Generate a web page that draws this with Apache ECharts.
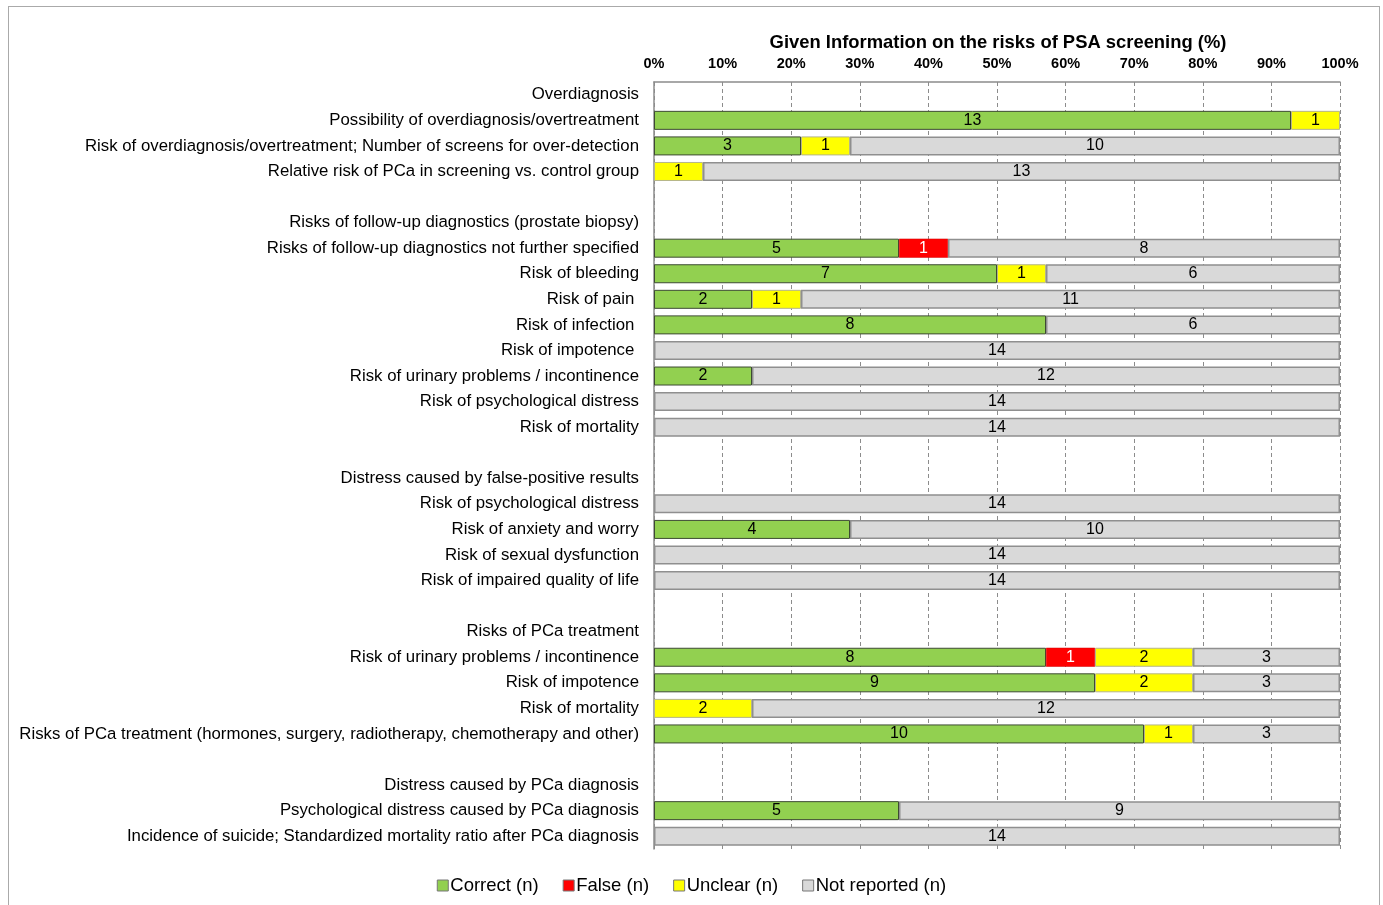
<!DOCTYPE html>
<html>
<head>
<meta charset="utf-8">
<style>
  html, body { margin: 0; padding: 0; background: #fff; overflow: hidden; }
  #frame { position: absolute; left: 8px; top: 6px; width: 1372px; height: 960px; border: 1.5px solid #aaaaaa; box-sizing: border-box; pointer-events: none; }
  #chart { position: absolute; left: 0; top: 0; width: 1383px; height: 905px; }
</style>
<script src="https://cdn.jsdelivr.net/npm/echarts@6/dist/echarts.min.js"></script>
</head>
<body>
<div id="chart"></div>
<div id="frame"></div>
<script>
const categories = [
  'Overdiagnosis',
  'Possibility of overdiagnosis/overtreatment',
  'Risk of overdiagnosis/overtreatment; Number of screens for over-detection',
  'Relative risk of PCa in screening vs. control group',
  '',
  'Risks of follow-up diagnostics (prostate biopsy)',
  'Risks of follow-up diagnostics not further specified',
  'Risk of bleeding',
  'Risk of pain ',
  'Risk of infection ',
  'Risk of impotence ',
  'Risk of urinary problems / incontinence',
  'Risk of psychological distress',
  'Risk of mortality',
  '',
  'Distress caused by false-positive results',
  'Risk of psychological distress',
  'Risk of anxiety and worry',
  'Risk of sexual dysfunction',
  'Risk of impaired quality of life',
  '',
  'Risks of PCa treatment',
  'Risk of urinary problems / incontinence',
  'Risk of impotence',
  'Risk of mortality',
  'Risks of PCa treatment (hormones, surgery, radiotherapy, chemotherapy and other)',
  '',
  'Distress caused by PCa diagnosis',
  'Psychological distress caused by PCa diagnosis',
  'Incidence of suicide; Standardized mortality ratio after PCa diagnosis'
];
// counts (n) per row; null = header / blank row
const correct     = [null,13,3,0,null,null,5,7,2,8,0,2,0,0,null,null,0,4,0,0,null,null,8,9,0,10,null,null,5,0];
const falseN      = [null,0,0,0,null,null,1,0,0,0,0,0,0,0,null,null,0,0,0,0,null,null,1,0,0,0,null,null,0,0];
const unclear     = [null,1,1,1,null,null,0,1,1,0,0,0,0,0,null,null,0,0,0,0,null,null,2,2,2,1,null,null,0,0];
const notReported = [null,0,10,13,null,null,8,6,11,6,14,12,14,14,null,null,14,10,14,14,null,null,3,3,12,3,null,null,9,14];
const xTicks = [0,10,20,30,40,50,60,70,80,90,100];

const seriesDefs = [
  { name: 'Correct (n)', counts: correct, color: '#92D050', border: '#3d4a33', bw: 1, label: '#000' },
  { name: 'False (n)', counts: falseN, color: '#FF0000', border: '#d00000', bw: 0.5, label: '#fff' },
  { name: 'Unclear (n)', counts: unclear, color: '#FFFF00', border: '#b5b58a', bw: 1, label: '#000' },
  { name: 'Not reported (n)', counts: notReported, color: '#D9D9D9', border: '#8f8f8f', bw: 1.5, label: '#000' }
];

function totalAt(i) {
  let t = 0;
  seriesDefs.forEach(s => { if (s.counts[i] != null) t += s.counts[i]; });
  return t;
}

const FONT = 'Liberation Sans, Arial, sans-serif';

const series = seriesDefs.map(s => ({
  name: s.name,
  type: 'bar',
  stack: 'all',
  barWidth: 19,
  itemStyle: { color: s.color, borderColor: s.border, borderWidth: s.bw },
  label: {
    show: true,
    position: 'inside',
    color: s.label,
    fontFamily: FONT,
    fontSize: 16,
    formatter: p => (p.data && p.data.n > 0) ? String(p.data.n) : ''
  },
  data: s.counts.map((n, i) => {
    if (n == null || n === 0) return { value: '-', n: 0 };
    return { value: n / totalAt(i) * 100, n: n };
  })
}));

const chart = echarts.init(document.getElementById('chart'), null, { renderer: 'canvas' });
chart.setOption({
  animation: false,
  backgroundColor: '#ffffff',
  title: {
    text: 'Given Information on the risks of PSA screening (%)',
    left: 993, top: 29, textAlign: 'center',
    textStyle: { fontFamily: FONT, fontSize: 18.4, fontWeight: 'bold', color: '#000' }
  },
  legend: {
    bottom: 5,
    left: 'center',
    itemWidth: 11, itemHeight: 11, itemGap: 24,
    icon: 'rect',
    textStyle: { fontFamily: FONT, fontSize: 18.5, color: '#000', padding: [0, 0, 0, -3] },
    data: seriesDefs.map(s => ({ name: s.name, itemStyle: { borderColor: '#777', borderWidth: 1 } }))
  },
  grid: { left: 654, right: 43, top: 82, bottom: 56, containLabel: false },
  xAxis: {
    type: 'value',
    position: 'top',
    min: xTicks[0], max: xTicks[xTicks.length - 1], interval: 10,
    axisLine: { show: true, lineStyle: { color: '#8c8c8c', width: 1.5 } },
    axisTick: { show: false },
    axisLabel: {
      formatter: '{value}%', margin: 11,
      fontFamily: FONT, fontSize: 14.5, fontWeight: 'bold', color: '#000'
    },
    splitLine: { show: true, lineStyle: { color: '#8c8c8c', type: [4, 3], width: 1 } }
  },
  yAxis: {
    type: 'category',
    inverse: true,
    data: categories,
    axisLine: { show: true, lineStyle: { color: '#8c8c8c', width: 1.5 } },
    axisTick: { show: false },
    axisLabel: {
      interval: 0, margin: 15,
      fontFamily: FONT, fontSize: 16.8, color: '#000'
    }
  },
  series: series
});
</script>
</body>
</html>
